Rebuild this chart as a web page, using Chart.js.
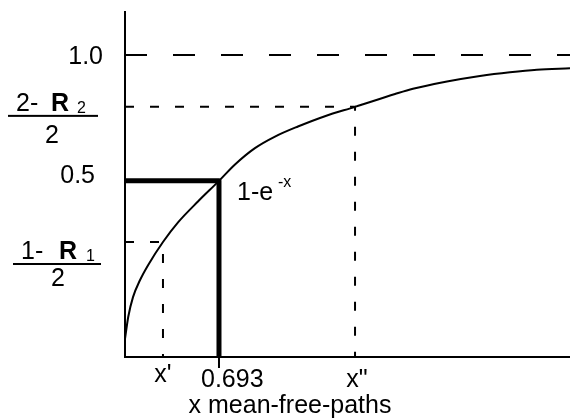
<!DOCTYPE html>
<html>
<head>
<meta charset="utf-8">
<script src="https://cdn.jsdelivr.net/npm/chart.js@4"></script>
<style>
  body { margin: 0; background: #fff; }
  canvas { display: block; }
</style>
</head>
<body>
<canvas id="mfp" width="570" height="419"></canvas>
<script>
const curveX = [0, 0.024, 0.059, 0.111, 0.170, 0.280, 0.391, 0.538, 0.693, 0.811, 0.958, 1.106, 1.275, 1.474, 1.696, 1.991, 2.123, 2.374, 2.617, 2.838, 3.037, 3.281]
const curveY = [-0.128, -0.040, 0.038, 0.106, 0.165, 0.257, 0.335, 0.418, 0.5, 0.565, 0.630, 0.676, 0.716, 0.757, 0.794, 0.845, 0.866, 0.895, 0.917, 0.932, 0.942, 0.947]

// marked positions
const xPrime = 0.28
const yPrime = 0.257
const xHalf = 0.693
const yHalf = 0.5
const xDouble = 1.696
const yDouble = 0.794
const yTop = 1.0

const xMin = 0, xMax = 3.281
const yMin = -0.2, yMax = 1.175

const FONT = '"Liberation Sans", Arial, sans-serif'

const pts = (xs, ys) => xs.map((x, i) => ({ x: x, y: ys[i] }))

// axes, custom tick labels and the fraction labels
const annotate = {
  id: 'annotate',
  afterDatasetsDraw(chart) {
    const c = chart.ctx
    const xs = chart.scales.x, ys = chart.scales.y
    const px = v => xs.getPixelForValue(v)
    const py = v => ys.getPixelForValue(v)
    c.save()
    c.strokeStyle = '#000'
    c.fillStyle = '#000'
    c.lineWidth = 2
    c.beginPath()
    c.moveTo(px(xMin), 11)
    c.lineTo(px(xMin), py(yMin))
    c.moveTo(px(xMin) - 1, py(yMin))
    c.lineTo(px(xMax), py(yMin))
    // tick under 0.693
    c.moveTo(px(xHalf), py(yMin))
    c.lineTo(px(xHalf), py(yMin) + 11)
    c.stroke()

    c.textBaseline = 'alphabetic'
    c.font = '25px ' + FONT
    c.textAlign = 'right'
    c.fillText('1.0', 103, py(yTop) + 9)
    c.fillText('0.5', 95, py(yHalf) + 2)

    // (2- R2)/2
    let y0 = py(yDouble)
    c.textAlign = 'left'
    c.fillText('2-', 16, y0 + 4)
    c.font = 'bold 25px ' + FONT
    c.fillText('R', 51, y0 + 4)
    c.font = '16px ' + FONT
    c.fillText('2', 77, y0 + 6)
    c.fillRect(8, y0 + 8, 90, 2)
    c.font = '25px ' + FONT
    c.textAlign = 'center'
    c.fillText('2', 52, y0 + 36)

    // (1- R1)/2
    y0 = py(yPrime)
    c.textAlign = 'left'
    c.fillText('1-', 21, y0 + 17)
    c.font = 'bold 25px ' + FONT
    c.fillText('R', 59, y0 + 17)
    c.font = '16px ' + FONT
    c.fillText('1', 86, y0 + 19)
    c.fillRect(13, y0 + 21, 88, 2)
    c.font = '25px ' + FONT
    c.textAlign = 'center'
    c.fillText('2', 58, y0 + 44)

    // x labels
    const base = py(yMin)
    c.fillText("x'", px(xPrime), base + 25)
    c.fillText('x"', px(xDouble) + 2, base + 30)
    c.textAlign = 'left'
    c.fillText('0.693', px(xHalf) - 18, base + 30)
    c.textAlign = 'center'
    c.fillText('x mean-free-paths', 290, base + 56)

    // curve label
    c.textAlign = 'left'
    c.fillText('1-e', px(xHalf) + 18, py(yHalf) + 19)
    c.font = '16px ' + FONT
    c.fillText('-x', px(xHalf) + 59, py(yHalf) + 6)
    c.restore()
  }
}

const config = {
  type: 'scatter',
  data: {
    datasets: [
      {
        data: pts(curveX, curveY),
        showLine: true,
        borderColor: '#000',
        borderWidth: 2,
        pointRadius: 0,
        cubicInterpolationMode: 'monotone'
      },
      {
        data: pts([xMin, xMax], [yTop, yTop]),
        showLine: true,
        borderColor: '#000',
        borderWidth: 2,
        borderDash: [22, 26],
        pointRadius: 0
      },
      {
        data: pts([xMin, xDouble, xDouble], [yDouble, yDouble, yMin]),
        showLine: true,
        borderColor: '#000',
        borderWidth: 2,
        borderDash: [9, 16],
        pointRadius: 0
      },
      {
        data: pts([xMin, xPrime, xPrime], [yPrime, yPrime, yMin]),
        showLine: true,
        borderColor: '#000',
        borderWidth: 2,
        borderDash: [9, 16],
        pointRadius: 0
      },
      {
        data: pts([xMin, xHalf, xHalf], [yHalf, yHalf, yMin]),
        showLine: true,
        borderColor: '#000',
        borderWidth: 5,
        borderJoinStyle: 'round',
        pointRadius: 0
      }
    ]
  },
  options: {
    responsive: false,
    animation: false,
    layout: { padding: { left: 125, right: 0, top: 11, bottom: 62 } },
    plugins: {
      legend: { display: false },
      tooltip: { enabled: false }
    },
    scales: {
      x: { type: 'linear', min: xMin, max: xMax, display: false },
      y: { type: 'linear', min: yMin, max: yMax, display: false }
    }
  },
  plugins: [annotate]
}

new Chart(document.getElementById('mfp').getContext('2d'), config)
</script>
</body>
</html>
